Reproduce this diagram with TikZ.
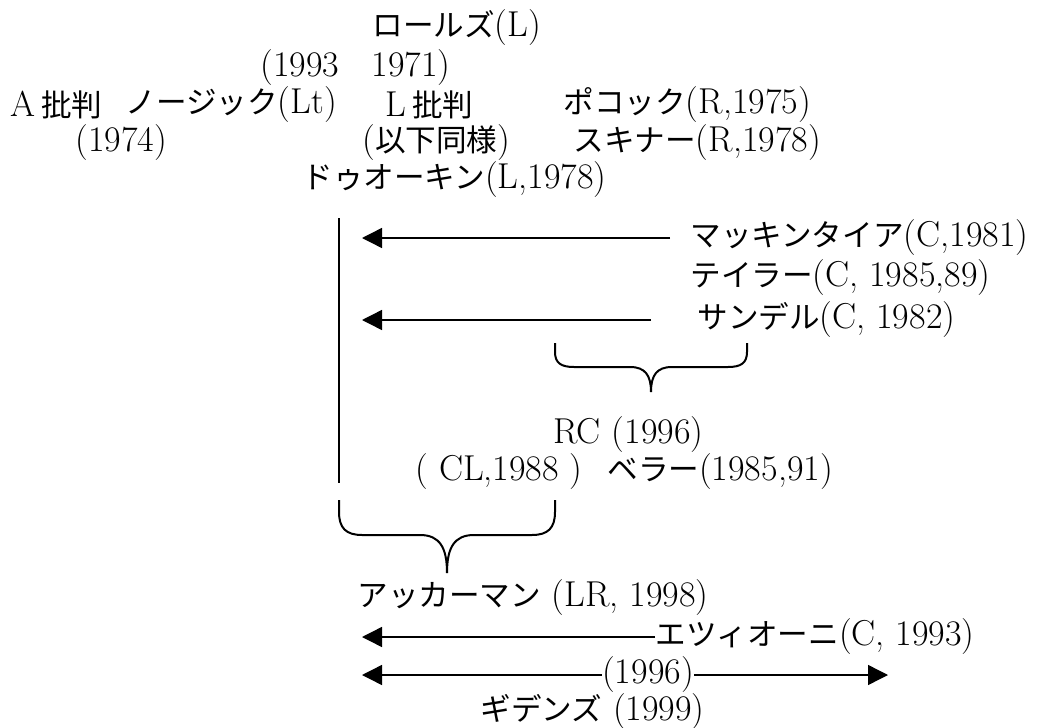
\documentclass[tikz,border=0pt]{standalone}
\usepackage{fontspec}
\usepackage{tikz}
\usetikzlibrary{arrows.meta,positioning,calc}
\newfontfamily\jp{Noto Sans CJK JP}[Scale=0.85]

\begin{document}
\begin{tikzpicture}[x=0.5pt, y=-0.5pt,
  lbl/.style={anchor=west, inner sep=0pt, font=\fontsize{18}{21}\selectfont},
  arr/.style={-{Triangle[length=10pt, width=10pt]}, line width=0.7pt, black},
  brc/.style={line width=1pt, black}
]
  \useasboundingbox (0,0) rectangle (1040,728);
  % upper block
  \node[lbl] (rawls) at (372,28) {{\jp ロールズ}(L)};
  \node[lbl] (years) at (260,68) {(1993\hspace{0.9em}1971)};
  \node[lbl] (acrit) at (10,105) {A\,{\jp 批判}};
  \node[lbl] (nozick) at (125,105) {{\jp ノージック}(Lt)};
  \node[lbl] (lcrit) at (385,105) {L\,{\jp 批判}};
  \node[lbl] (pocock) at (563,105) {{\jp ポコック}(R,1975)};
  \node[lbl] (y1974) at (75,143) {(1974)};
  \node[lbl] (same) at (362,143) {({\jp 以下同様})};
  \node[lbl] (skinner) at (573,143) {{\jp スキナー}(R,1978)};
  \node[lbl] (dworkin) at (302,180) {{\jp ドゥオーキン}(L,1978)};
  % communitarians
  \node[lbl] (macintyre) at (690,238) {{\jp マッキンタイア}(C,1981)};
  \node[lbl] (taylor) at (690,278) {{\jp テイラー}(C, 1985,89)};
  \node[lbl] (sandel) at (697,320) {{\jp サンデル}(C, 1982)};
  \node[lbl] (rc) at (553,435) {RC (1996)};
  \node[lbl] (cl) at (415,472) {( CL,1988 )};
  \node[lbl] (bellah) at (607,472) {{\jp ベラー}(1985,91)};
  % lower block
  \node[lbl] (ackerman) at (357,598) {{\jp アッカーマン} (LR, 1998)};
  \node[lbl] (etzioni) at (655,637) {{\jp エツィオーニ}(C, 1993)};
  \node[lbl, anchor=center] (y1996) at (648,675) {(1996)};
  \node[lbl] (giddens) at (480,712) {{\jp ギデンズ} (1999)};

  \coordinate (ltop) at (339,218);
  \coordinate (lbot) at (339,483);
  \coordinate (tip1) at (362,238);
  \coordinate (tip2) at (362,320);
  \coordinate (tip3) at (362,637);
  \coordinate (tip4) at (362,675);
  \coordinate (tip5) at (888,675);

  \draw[line width=0.8pt] (ltop) -- (lbot);
  \draw[arr] ([xshift=-10pt]macintyre.west) -- (tip1);
  \draw[arr] ([xshift=-23pt]sandel.west) -- (tip2);
  \draw[arr] (etzioni.west) -- (tip3);
  \draw[arr] (y1996.west) -- (tip4);
  \draw[arr] (y1996.east) -- (tip5);

  % braces
  \draw[brc] (555,343) -- (555,352) .. controls (555,363) and (561,367) .. (574,367)
    -- (630,367) .. controls (645,367) and (651,375) .. (651,392);
  \draw[brc] (747,343) -- (747,352) .. controls (747,363) and (741,367) .. (728,367)
    -- (672,367) .. controls (657,367) and (651,375) .. (651,392);
  \draw[brc] (339,500) -- (339,512) .. controls (339,528) and (346,535) .. (362,535)
    -- (420,535) .. controls (440,535) and (447,548) .. (447,573);
  \draw[brc] (555,500) -- (555,512) .. controls (555,528) and (548,535) .. (532,535)
    -- (474,535) .. controls (454,535) and (447,548) .. (447,573);
\end{tikzpicture}
\end{document}
